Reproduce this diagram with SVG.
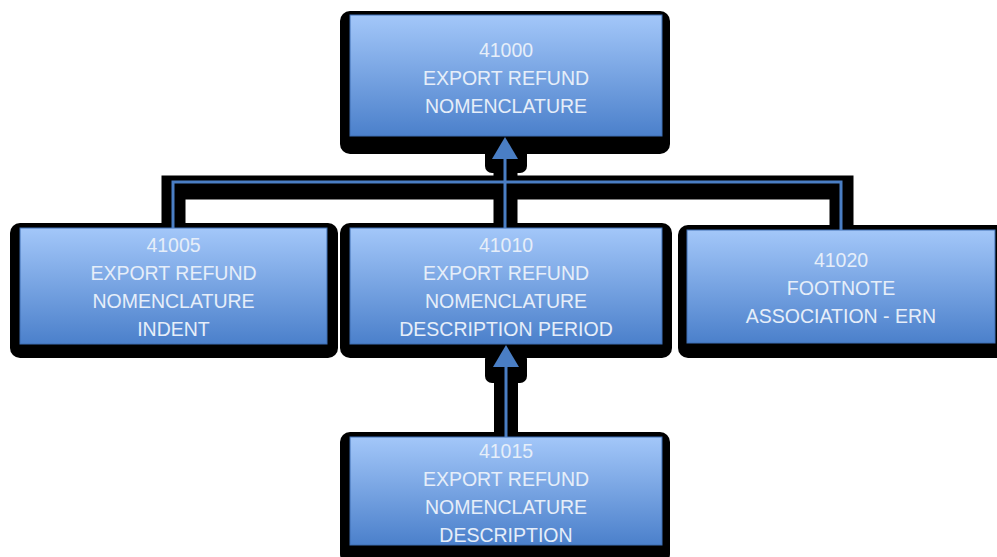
<svg xmlns="http://www.w3.org/2000/svg" width="997" height="557" viewBox="0 0 997 557">
  <defs>
    <linearGradient id="boxGrad" x1="0" y1="0" x2="0" y2="1">
      <stop offset="0" stop-color="#a3c7f9"/>
      <stop offset="1" stop-color="#4b80cb"/>
    </linearGradient>
    <style>
      .shadow { fill: #000000; }
      .box { fill: url(#boxGrad); stroke: #3f6fb3; stroke-width: 1; }
      .label { font-family: "Liberation Sans", Arial, sans-serif; font-size: 19.5px; fill: #e6eef9; text-anchor: middle; }
      .cshadow { fill: none; stroke: #000000; stroke-width: 24; }
      .cline { fill: none; stroke: #4a7ec4; stroke-width: 3; }
      .ahead { fill: #4a7ec4; }
    </style>
  </defs>
  <rect width="997" height="557" fill="#ffffff"/>

  <g id="node-41000">
    <rect class="shadow" x="340" y="11" width="330" height="143" rx="10"/>
    <rect class="box" x="350" y="15" width="312" height="121"/>
    <text class="label" x="506" y="57">41000</text>
    <text class="label" x="506" y="85">EXPORT REFUND</text>
    <text class="label" x="506" y="113">NOMENCLATURE</text>
  </g>

  <g id="node-41005">
    <rect class="shadow" x="10" y="223" width="328" height="135" rx="10"/>
    <rect class="box" x="20" y="228" width="307" height="116"/>
    <text class="label" x="173.5" y="252">41005</text>
    <text class="label" x="173.5" y="280">EXPORT REFUND</text>
    <text class="label" x="173.5" y="308">NOMENCLATURE</text>
    <text class="label" x="173.5" y="336">INDENT</text>
  </g>

  <g id="node-41010">
    <rect class="shadow" x="340" y="223" width="332" height="135" rx="10"/>
    <rect class="box" x="350" y="228" width="312" height="116"/>
    <text class="label" x="506" y="252">41010</text>
    <text class="label" x="506" y="280">EXPORT REFUND</text>
    <text class="label" x="506" y="308">NOMENCLATURE</text>
    <text class="label" x="506" y="336">DESCRIPTION PERIOD</text>
  </g>

  <g id="node-41020">
    <rect class="shadow" x="678" y="225" width="330" height="133" rx="10"/>
    <rect class="box" x="687" y="230" width="308" height="113"/>
    <text class="label" x="841" y="267">41020</text>
    <text class="label" x="841" y="295">FOOTNOTE</text>
    <text class="label" x="841" y="323">ASSOCIATION - ERN</text>
  </g>

  <g id="node-41015">
    <rect class="shadow" x="340" y="432" width="330" height="132" rx="10"/>
    <rect class="box" x="350" y="437" width="312" height="108"/>
    <text class="label" x="506" y="458">41015</text>
    <text class="label" x="506" y="486">EXPORT REFUND</text>
    <text class="label" x="506" y="514">NOMENCLATURE</text>
    <text class="label" x="506" y="542">DESCRIPTION</text>
  </g>

  <g id="connectors">
    <!-- black outlines -->
    <path class="cshadow" d="M173.5,226 V187.5 H841.5 V228" stroke-linejoin="miter"/>
    <path class="cshadow" d="M505.5,150 V226" stroke-width="25"/>
    <rect class="shadow" x="485" y="145" width="42" height="28" rx="7"/>
    <path class="cshadow" d="M506,355 V436" stroke-width="26"/>
    <rect class="shadow" x="485" y="352" width="42" height="31" rx="7"/>
    <!-- blue lines -->
    <path class="cline" d="M173,228 V182 H841 V230"/>
    <path class="cline" d="M505,157 V228"/>
    <polygon class="ahead" points="505,137 518,159 492,159"/>
    <path class="cline" d="M506,365 V437"/>
    <polygon class="ahead" points="506,345 519,367 493,367"/>
  </g>
</svg>
